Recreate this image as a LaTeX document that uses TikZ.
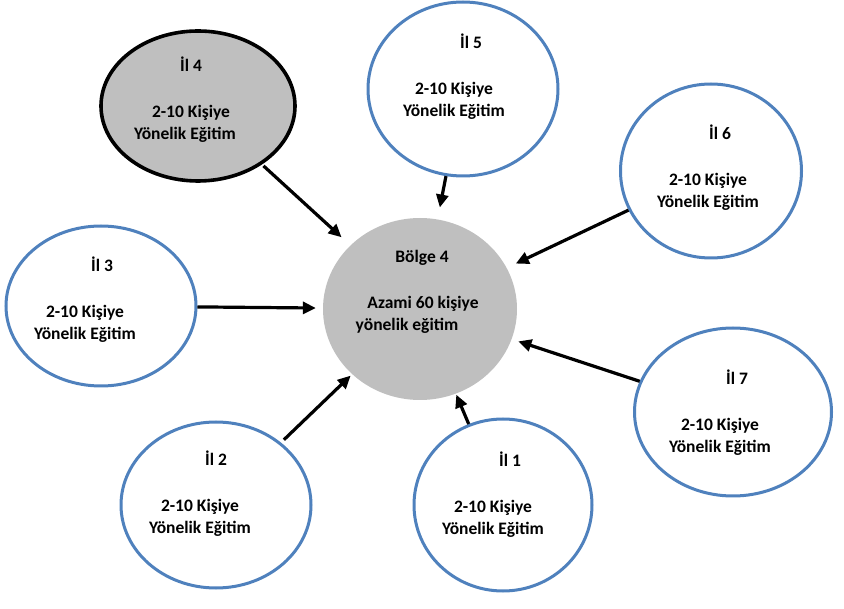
\documentclass[tikz,border=0pt]{standalone}
\usepackage{fontspec}
\setmainfont{Carlito}
\usepackage{xcolor}
\usepackage{tikz}
\usetikzlibrary{shapes.geometric,arrows.meta}
\definecolor{ilblue}{RGB}{79,129,189}
\definecolor{bolgegray}{RGB}{191,191,191}
\tikzset{
	il/.style={ellipse,draw=ilblue,line width=3pt,fill=white,inner sep=0pt},
	yazi/.style={align=center,inner sep=0pt,font=\bfseries\fontsize{17.5}{22}\selectfont},
	okbox/.style={-{Triangle[length=13pt,width=12pt]},line width=3.2pt}
}
\newcommand{\kay}[2]{\hspace*{#1}#2\hspace*{-#1}}
\newcommand{\iltext}[3]{\kay{#2}{İl #1}\\[24pt]\kay{#3}{2-10 Kişiye}\\Yönelik Eğitim}

\begin{document}
\begin{tikzpicture}[x=1pt,y=-1pt]
\useasboundingbox (0,0) rectangle (844,609);

\node[ellipse,fill=bolgegray,minimum width=194pt,minimum height=182pt,inner sep=0pt] (bolge) at (420,309) {};
\node[il,draw=black,fill=bolgegray,line width=3.6pt,minimum width=194pt,minimum height=150pt,name=il4] at (198,106) {};
\node[il,minimum width=190pt,minimum height=174pt,name=il5] at (463,89) {};
\node[il,minimum width=181pt,minimum height=174pt,name=il6] at (711,171) {};
\node[il,minimum width=190pt,minimum height=160pt,name=il3] at (101,306) {};
\node[il,minimum width=190pt,minimum height=166pt,name=il2] at (216,505) {};
\node[il,minimum width=178pt,minimum height=172pt,name=il1] at (503,505) {};
\node[il,minimum width=197pt,minimum height=168pt,name=il7] at (733,412) {};

\node[yazi] (bolge-yazi) at (423,292) {\kay{-1pt}{Bölge 4}\\[24pt]Azami 60 kişiye\\\kay{-16pt}{yönelik eğitim}};
\node[yazi] (il4-yazi) at (185,100) {\iltext{4}{6pt}{12pt}};
\node[yazi] (il5-yazi) at (454,77) {\iltext{5}{17pt}{0pt}};
\node[yazi] (il6-yazi) at (708,168) {\iltext{6}{12pt}{0pt}};
\node[yazi] (il3-yazi) at (85,300) {\iltext{3}{17pt}{0pt}};
\node[yazi] (il2-yazi) at (200,494) {\iltext{2}{16pt}{0pt}};
\node[yazi] (il1-yazi) at (493,495) {\iltext{1}{17pt}{0pt}};
\node[yazi] (il7-yazi) at (720,413) {\iltext{7}{17pt}{0pt}};

\draw[okbox,shorten <=2pt,shorten >=12pt] (il4) -- (bolge);
\draw[okbox,shorten <=0pt,shorten >=12pt] (il5) -- (bolge);
\draw[okbox,shorten <=0pt,shorten >=10pt] (il6) -- (bolge);
\draw[okbox,shorten <=0pt,shorten >=7pt] (il3) -- (bolge);
\draw[okbox,shorten <=4pt,shorten >=2pt] (il2) -- (bolge);
\draw[okbox,shorten <=0pt,shorten >=1pt] (il1) -- (bolge);
\draw[okbox,shorten <=0pt,shorten >=7pt] (il7) -- (bolge);

\end{tikzpicture}
\end{document}
